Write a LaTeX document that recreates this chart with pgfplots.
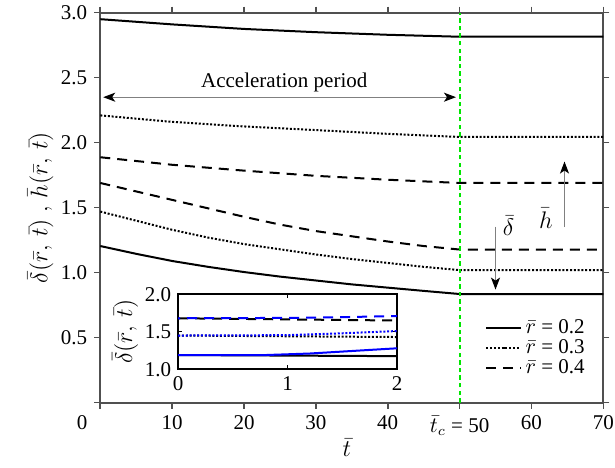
\documentclass[border=0pt]{standalone}
\usepackage{fontspec}
\setmainfont{Liberation Serif}
\usepackage{pgfplots}
\pgfplotsset{compat=1.18}
\usetikzlibrary{arrows.meta}
\definecolor{axgray}{RGB}{80,80,80}
\definecolor{vgreen}{RGB}{0,230,0}
\begin{document}
\begin{tikzpicture}[font=\fontsize{10.5}{12}\selectfont]
\begin{axis}[
  name=main,
  scale only axis, width=251.5pt, height=195pt,
  xmin=0, xmax=70, ymin=0, ymax=3,
  axis line style={axgray, line width=1pt},
  every tick/.style={axgray, line width=0.8pt},
  tick align=outside, major tick length=3pt,
  xtick={0,10,...,70},
  xticklabels={\hbox to 0pt{\hss 0\kern 6.5pt},10,20,30,40,{$\bar{t}_c$ = 50},60,70},
  ytick={0,0.5,...,3},
  yticklabels={,0.5,1.0,1.5,2.0,2.5,3.0},
  xlabel={$\bar{t}$},
  ylabel={$\bar{\delta}(\bar{r},\,\bar{t})\ ,\,\bar{h}(\bar{r},\,\bar{t})$},
  label style={font=\fontsize{12.5}{14}\selectfont},
  xlabel style={at={(axis description cs:0.49,-0.116)}, anchor=center},
  ylabel style={at={(axis description cs:-0.119,0.5)}, anchor=center},
  legend style={at={(axis cs:68.3,0.155)}, anchor=south east, draw=none, fill=none,
    inner sep=1pt, row sep=-2.5pt, font=\fontsize{10.5}{11}\selectfont},
  legend cell align=left,
  clip=false,
]
% delta curves (lower)
\addplot[black, line width=1pt] coordinates {(0,1.205)(5,1.145)(10,1.09)(15,1.045)(20,1.005)(25,0.97)(30,0.94)(35,0.91)(40,0.885)(45,0.86)(50,0.836)(70,0.836)};
\addlegendentry{$\bar{r}$ = 0.2}
\addplot[black, line width=1pt, dash pattern=on 1pt off 0.9pt] coordinates {(0,1.47)(5,1.40)(10,1.33)(15,1.27)(20,1.22)(25,1.18)(30,1.14)(35,1.105)(40,1.075)(45,1.045)(50,1.02)(70,1.02)};
\addlegendentry{$\bar{r}$ = 0.3}
\addplot[black, line width=1pt, dash pattern=on 5pt off 3.5pt] coordinates {(0,1.69)(5,1.625)(10,1.56)(15,1.495)(20,1.43)(25,1.37)(30,1.32)(35,1.28)(40,1.24)(45,1.205)(50,1.178)(70,1.178)};
\addlegendentry{$\bar{r}$ = 0.4}
% h curves (upper)
\addplot[black, line width=1pt, forget plot] coordinates {(0,2.95)(10,2.91)(20,2.875)(30,2.85)(40,2.83)(50,2.815)(70,2.815)};
\addplot[black, line width=1pt, dash pattern=on 1pt off 0.9pt, forget plot] coordinates {(0,2.21)(10,2.16)(20,2.125)(30,2.097)(40,2.068)(50,2.044)(70,2.044)};
\addplot[black, line width=1pt, dash pattern=on 5pt off 3.5pt, forget plot] coordinates {(0,1.888)(10,1.83)(20,1.785)(30,1.745)(40,1.715)(50,1.69)(70,1.69)};
% vertical green line
\addplot[color=vgreen, line width=1pt, dash pattern=on 2.2pt off 1.6pt, forget plot] coordinates {(50,0)(50,3)};
% annotations
\draw[gray, line width=0.6pt, {Stealth[black,length=6pt,width=4.5pt,inset=1.5pt]}-{Stealth[black,length=6pt,width=4.5pt,inset=1.5pt]}] (axis cs:0.4,2.35) -- (axis cs:49.5,2.35);
\node at (axis cs:25.6,2.46) {Acceleration period};
\draw[gray, line width=0.6pt, -{Stealth[black,length=6pt,width=4.5pt,inset=1.5pt]}] (axis cs:55,1.355) -- (axis cs:55,0.87);
\node[font=\fontsize{12.5}{14}\selectfont] at (axis cs:56.8,1.36) {$\bar{\delta}$};
\draw[gray, line width=0.6pt, -{Stealth[black,length=6pt,width=4.5pt,inset=1.5pt]}] (axis cs:64.6,1.35) -- (axis cs:64.6,1.855);
\node[font=\fontsize{12.5}{14}\selectfont] at (axis cs:62.0,1.42) {$\bar{h}$};
\coordinate (insetpos) at (axis cs:10.84,0.257);
\coordinate (bbl) at (rel axis cs:0,0);
\coordinate (btr) at (rel axis cs:1,1);
\end{axis}
\begin{axis}[
  at={(insetpos)}, anchor=south west,
  scale only axis, width=109.5pt, height=37.5pt,
  xmin=0, xmax=2, ymin=1, ymax=2,
  axis line style={black, line width=0.9pt},
  every tick/.style={black, line width=0.6pt},
  major tick length=2pt,
  xtick={0,1,2}, xticklabels={0,1,2},
  ytick={1,1.5,2}, yticklabels={1.0,1.5,2.0},
  axis background/.style={fill=white},
  ylabel={$\bar{\delta}(\bar{r},\,\bar{t})$},
  ylabel style={at={(axis description cs:-0.242,0.5)}, anchor=center, font=\fontsize{12.5}{14}\selectfont},
  clip=true,
]
\addplot[black, line width=1pt] coordinates {(0,1.19)(2,1.175)};
\addplot[black, line width=1pt, dash pattern=on 1pt off 0.9pt] coordinates {(0,1.45)(2,1.43)};
\addplot[black, line width=1pt, dash pattern=on 5pt off 3.5pt] coordinates {(0,1.68)(2,1.65)};
\addplot[blue, line width=1pt] coordinates {(0,1.19)(0.8,1.19)(1.2,1.21)(1.6,1.245)(2,1.28)};
\addplot[blue, line width=1pt, dash pattern=on 1pt off 0.9pt] coordinates {(0,1.45)(1,1.455)(1.5,1.48)(2,1.51)};
\addplot[blue, line width=1pt, dash pattern=on 5pt off 3.5pt, dash phase=4pt] coordinates {(0,1.68)(1,1.685)(1.5,1.695)(2,1.71)};
\node[anchor=north, font=\fontsize{12.5}{14}\selectfont, inner sep=2pt] at (axis cs:1.45,0.975) {$\bar{t}$};
\end{axis}
\pgfresetboundingbox
\path ([shift={(-50.15pt,-32.65pt)}]bbl) rectangle ([shift={(5.85pt,6.35pt)}]btr);
\end{tikzpicture}
\end{document}
